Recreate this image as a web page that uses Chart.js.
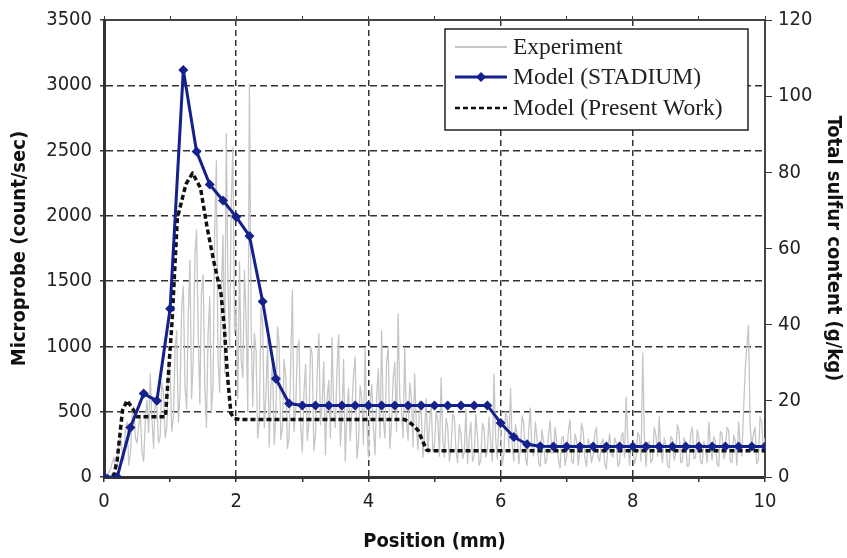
<!DOCTYPE html>
<html>
<head>
<meta charset="utf-8">
<script src="https://cdn.jsdelivr.net/npm/chart.js@4/dist/chart.umd.min.js"></script>
<style>
  html, body { margin: 0; padding: 0; background: #fff; }
</style>
</head>
<body>
<canvas id="myChart" width="847" height="558"></canvas>
<script>
// posicion (mm) del microprobe, muestreo cada 0.025 mm
const expStep = 0.025;
const expCounts = [
  0, 10, 20, 40, 60, 110, 150, 60, 90, 250,
  320, 180, 130, 380, 420, 90, 180, 470, 540, 300,
  260, 400, 470, 190, 120, 430, 590, 340, 790, 450,
  220, 610, 530, 260, 310, 720, 650, 300, 380, 880,
  820, 350, 460, 980, 1120, 420, 640, 1300, 1460, 700,
  520, 1250, 1660, 600, 900, 1700, 1890, 1100, 560, 1420,
  1550, 700, 380, 1100, 1380, 500, 720, 1900, 2420, 900,
  650, 1400, 1850, 800, 2630, 1500, 980, 2100, 2520, 1100,
  1300, 600, 1650, 900, 760, 1580, 1220, 500, 3010, 1200,
  540, 1100, 970, 300, 430, 1300, 1180, 380, 640, 1050,
  230, 700, 880, 250, 470, 1150, 1020, 290, 380, 900,
  760, 220, 300, 880, 1430, 350, 520, 980, 1050, 400,
  190, 650, 860, 280, 420, 1000, 930, 200, 330, 780,
  1100, 400, 560, 880, 170, 600, 740, 300, 1070, 520,
  380, 820, 1090, 240, 460, 900, 120, 500, 680, 280,
  520, 780, 920, 140, 260, 700, 600, 250, 990, 430,
  150, 560, 710, 380, 170, 620, 830, 300, 1120, 450,
  300, 880, 990, 220, 410, 760, 880, 350, 1250, 600,
  520, 300, 990, 450, 280, 720, 610, 230, 790, 400,
  210, 580, 480, 150, 350, 600, 180, 420, 560, 200,
  240, 500, 430, 160, 760, 300, 150, 450, 380, 120,
  220, 480, 460, 200, 110, 400, 330, 140, 190, 520,
  100, 300, 420, 120, 160, 480, 310, 90, 130, 410,
  370, 150, 200, 460, 260, 120, 790, 300, 140, 430,
  350, 90, 180, 500, 450, 220, 680, 250, 120, 400,
  330, 100, 220, 470, 410, 150, 90, 350, 530, 200,
  160, 420, 300, 110, 80, 360, 270, 100, 140, 330,
  430, 180, 190, 380, 250, 130, 70, 300, 310, 90,
  160, 350, 440, 120, 100, 330, 280, 90, 200, 410,
  350, 140, 80, 290, 240, 110, 170, 330, 380, 150,
  120, 260, 290, 100, 60, 240, 330, 180, 150, 300,
  260, 80, 110, 310, 340, 150, 610, 280, 90, 250,
  230, 100, 150, 340, 310, 120, 950, 300, 80, 260,
  270, 110, 140, 380, 320, 160, 460, 200, 110, 300,
  240, 90, 70, 310, 290, 130, 180, 400, 350, 110,
  120, 300, 260, 80, 90, 330, 380, 140, 150, 360,
  300, 120, 100, 270, 230, 110, 420, 250, 130, 310,
  270, 100, 80, 350, 330, 140, 190, 380, 360, 120,
  110, 320, 280, 90, 420, 250, 160, 500, 820, 1000,
  1160, 400, 240, 330, 380, 100, 130, 460, 420, 200,
  300
];

// Model (STADIUM), g/kg
const stadiumX = [0, 0.2, 0.4, 0.6, 0.8, 1.0, 1.2, 1.4, 1.6, 1.8, 2.0, 2.2, 2.4, 2.6, 2.8,
  3.0, 3.2, 3.4, 3.6, 3.8, 4.0, 4.2, 4.4, 4.6, 4.8, 5.0, 5.2, 5.4, 5.6, 5.8,
  6.0, 6.2, 6.4, 6.6, 6.8, 7.0, 7.2, 7.4, 7.6, 7.8, 8.0, 8.2, 8.4, 8.6, 8.8,
  9.0, 9.2, 9.4, 9.6, 9.8, 10.0];
const stadiumY = [0, 0, 13.0, 21.9, 20.0, 44.2, 106.9, 85.5, 76.8, 72.6, 68.3, 63.3, 46.1, 25.8, 19.3,
  18.8, 18.8, 18.8, 18.8, 18.8, 18.8, 18.8, 18.8, 18.8, 18.8, 18.8, 18.8, 18.8, 18.8, 18.8,
  14.2, 10.5, 8.6, 8.1, 8.0, 8.0, 8.0, 8.0, 8.0, 8.0, 8.0, 8.0, 8.0, 8.0, 8.0,
  8.0, 8.0, 8.0, 8.0, 8.0, 8.0];

// Model (Present Work), g/kg
const presentX = [0, 0.15, 0.2, 0.28, 0.35, 0.45, 0.5, 0.93, 1.03, 1.11, 1.24, 1.34, 1.46, 1.56,
  1.66, 1.77, 1.82, 1.87, 1.92, 1.97, 2.05, 4.55, 4.65, 4.75, 4.88, 4.95, 10];
const presentY = [0, 0.5, 4.5, 17.5, 20.1, 17.5, 15.8, 15.8, 41, 68, 76.9, 79.8, 75.9, 65.5,
  56.7, 48.1, 39.3, 26.2, 16.7, 15.4, 15.1, 15.1, 14.0, 12.3, 7.1, 6.9, 6.9];

const leftTicks = [0, 500, 1000, 1500, 2000, 2500, 3000, 3500];
const rightTicks = [0, 20, 40, 60, 80, 100, 120];
const xLabels = [0, 2, 4, 6, 8, 10];

const narrow = "'Liberation Sans Narrow', 'Arial Narrow', 'DejaVu Sans Condensed', sans-serif";
const serif = "'Liberation Serif', 'Times New Roman', serif";
const blue = "#14218c";
const grey = "#c6c6c6";

const expData = expCounts.map((v, i) => ({ x: +(i * expStep).toFixed(3), y: v }));
const stadiumData = stadiumX.map((x, i) => ({ x: x, y: stadiumY[i] }));
const presentData = presentX.map((x, i) => ({ x: x, y: presentY[i] }));

// leyenda dentro del grafico
const legendBox = {
  id: "legendBox",
  afterDatasetsDraw(chart) {
    const ctx = chart.ctx;
    const ca = chart.chartArea;
    const bx = ca.right - 320, by = ca.top + 9, bw = 303, bh = 101;
    ctx.save();
    ctx.fillStyle = "#fff";
    ctx.fillRect(bx, by, bw, bh);
    ctx.strokeStyle = "#222";
    ctx.lineWidth = 1.5;
    ctx.strokeRect(bx, by, bw, bh);
    const rows = [by + 18, by + 48, by + 79];
    const x1 = bx + 10, x2 = bx + 62;
    ctx.font = "23.5px " + serif;
    ctx.textBaseline = "middle";
    const names = ["Experiment", "Model (STADIUM)", "Model (Present Work)"];
    // muestra experimento
    ctx.strokeStyle = grey; ctx.lineWidth = 2;
    ctx.beginPath(); ctx.moveTo(x1, rows[0]); ctx.lineTo(x2, rows[0]); ctx.stroke();
    // muestra stadium
    ctx.strokeStyle = blue; ctx.lineWidth = 3;
    ctx.beginPath(); ctx.moveTo(x1, rows[1]); ctx.lineTo(x2, rows[1]); ctx.stroke();
    ctx.fillStyle = blue;
    const mx = (x1 + x2) / 2;
    ctx.beginPath();
    ctx.moveTo(mx, rows[1] - 5); ctx.lineTo(mx + 5, rows[1]); ctx.lineTo(mx, rows[1] + 5); ctx.lineTo(mx - 5, rows[1]);
    ctx.closePath(); ctx.fill();
    // muestra present work
    ctx.strokeStyle = "#111"; ctx.lineWidth = 2.5; ctx.setLineDash([5, 3]);
    ctx.beginPath(); ctx.moveTo(x1, rows[2]); ctx.lineTo(x2, rows[2]); ctx.stroke();
    ctx.setLineDash([]);
    ctx.fillStyle = "#222";
    names.forEach((n, i) => ctx.fillText(n, x2 + 6, rows[i] + 1));
    ctx.restore();
  }
};

const isInner = (v, lo, hi) => v > lo && v < hi;

const config = {
  type: "line",
  data: {
    datasets: [
      {
        label: "Model (STADIUM)",
        data: stadiumData,
        yAxisID: "y1",
        borderColor: blue,
        backgroundColor: blue,
        borderWidth: 3,
        borderJoinStyle: "round",
        pointStyle: "rectRot",
        pointRadius: 5,
        pointBorderWidth: 0,
        order: 1,
      },
      {
        label: "Model (Present Work)",
        data: presentData,
        yAxisID: "y1",
        borderColor: "#111",
        borderWidth: 3.5,
        borderJoinStyle: "round",
        borderDash: [5, 3],
        pointRadius: 0,
        order: 2,
      },
      {
        label: "Experiment",
        data: expData,
        yAxisID: "y",
        borderColor: grey,
        borderWidth: 1.3,
        borderJoinStyle: "round",
        pointRadius: 0,
        order: 3,
      },
    ],
  },
  options: {
    responsive: false,
    animation: false,
    layout: { padding: 0 },
    plugins: { legend: { display: false }, tooltip: { enabled: false } },
    scales: {
      x: {
        type: "linear",
        position: "bottom",
        min: 0, max: 10,
        afterFit: (s) => { s.height = 81; },
        ticks: {
          stepSize: 1,
          autoSkip: false,
          maxRotation: 0,
          padding: 8,
          color: "#222",
          font: { family: narrow, size: 20 },
          callback: (v) => (xLabels.includes(v) ? String(v) : ""),
        },
        grid: {
          color: (c) => (c.tick && c.tick.value % 2 === 0 && isInner(c.tick.value, 0, 10) ? "#333" : "rgba(0,0,0,0)"),
          lineWidth: 1.5,
          tickColor: "#333",
          tickLength: 5,
        },
        border: { display: true, color: "#333", width: 3, dash: [6, 4] },
        title: {
          display: true,
          text: "Position (mm)",
          color: "#111",
          font: { family: narrow, size: 20, weight: "bold" },
          padding: { top: 4, bottom: 4 },
        },
      },
      x2: {
        type: "linear",
        position: "top",
        min: 0, max: 10,
        afterFit: (s) => { s.height = 18; },
        ticks: { stepSize: 1, display: false },
        grid: { drawOnChartArea: false, tickColor: "#444", tickLength: 4 },
        border: { display: true, color: "#444", width: 2 },
      },
      y: {
        position: "left",
        min: 0, max: 3500,
        afterFit: (s) => { s.width = 104; },
        afterBuildTicks: (s) => { s.ticks = leftTicks.map((v) => ({ value: v })); },
        ticks: {
          padding: 8,
          color: "#222",
          font: { family: narrow, size: 20 },
          callback: (v) => String(v),
        },
        grid: {
          color: (c) => (c.tick && isInner(c.tick.value, 0, 3500) ? "#333" : "rgba(0,0,0,0)"),
          lineWidth: 1.5,
          tickColor: "#333",
          tickLength: 4,
        },
        border: { display: true, color: "#333", width: 3, dash: [7, 4] },
        title: {
          display: true,
          text: "Microprobe (count/sec)",
          color: "#111",
          font: { family: narrow, size: 20, weight: "bold" },
          padding: { top: 8, bottom: 4 },
        },
      },
      y1: {
        position: "right",
        min: 0, max: 120,
        afterFit: (s) => { s.width = 82; },
        afterBuildTicks: (s) => { s.ticks = rightTicks.map((v) => ({ value: v })); },
        ticks: {
          padding: 6,
          color: "#222",
          font: { family: narrow, size: 20 },
          callback: (v) => String(v),
        },
        grid: { drawOnChartArea: false, tickColor: "#333", tickLength: 7 },
        border: { display: true, color: "#444", width: 2 },
        title: {
          display: true,
          text: "Total sulfur content (g/kg)",
          color: "#111",
          font: { family: narrow, size: 20, weight: "bold" },
          padding: { top: 2, bottom: 4 },
        },
      },
    },
  },
  plugins: [legendBox],
};

var myChart = new Chart(document.getElementById("myChart"), config);
</script>
</body>
</html>
